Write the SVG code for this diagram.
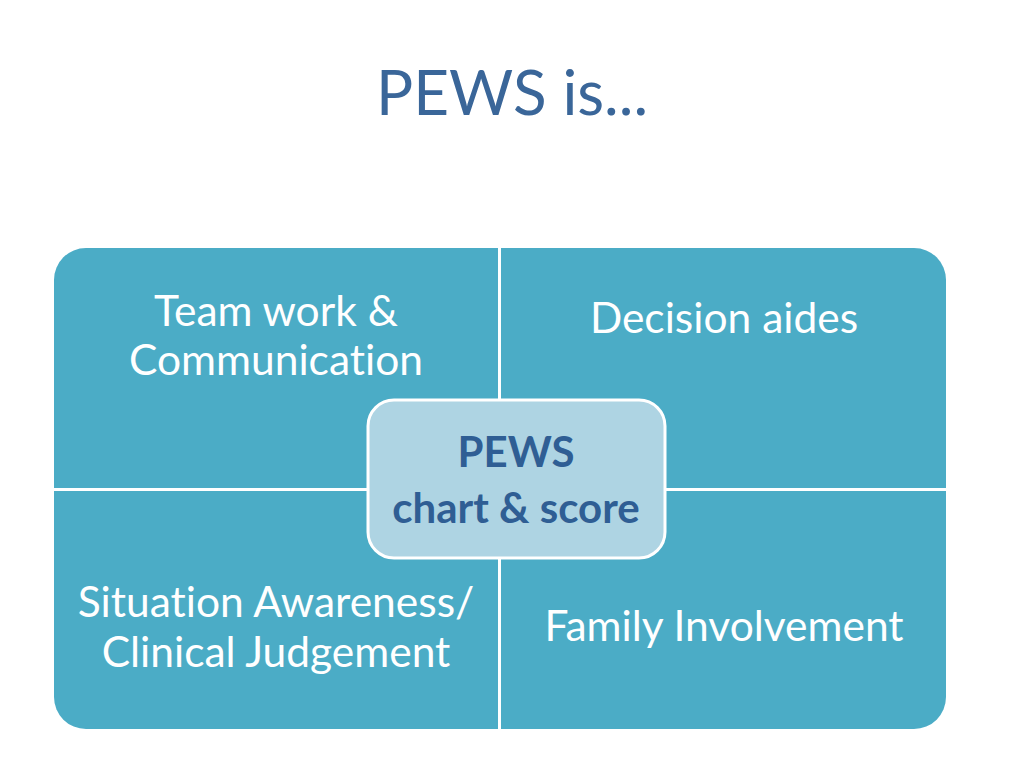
<svg xmlns="http://www.w3.org/2000/svg" width="1024" height="768" viewBox="0 0 1024 768">
<style>
text{font-variant-ligatures:none;font-feature-settings:"liga" 0}
.q{fill:#4BACC6}
.qt{font-family:Lato,"Liberation Sans",sans-serif;font-size:42.5px;fill:#FFFFFF;text-anchor:middle}
.ct{font-family:Lato,"Liberation Sans",sans-serif;font-size:42px;font-weight:bold;fill:#2F5E94;text-anchor:middle}
</style>
<rect width="1024" height="768" fill="#FFFFFF"/>
<g id="title"><text x="512" y="115" font-family="Lato,'Liberation Sans',sans-serif" font-size="62" fill="#3A6699" text-anchor="middle">PEWS is...</text></g>
<g id="q-teamwork">
<path class="q" d="M54,280 A32,32 0 0 1 86,248 L498,248 L498,488 L54,488 Z"/>
<text class="qt" x="276" y="326">Team work &amp;</text>
<text class="qt" x="276" y="375">Communication</text>
</g>
<g id="q-decision">
<path class="q" d="M501,248 L914,248 A32,32 0 0 1 946,280 L946,488 L501,488 Z"/>
<text class="qt" x="724" y="333">Decision aides</text>
</g>
<g id="q-situation">
<path class="q" d="M54,491 L498,491 L498,729 L86,729 A32,32 0 0 1 54,697 Z"/>
<text class="qt" x="276" y="617">Situation Awareness/</text>
<text class="qt" x="276" y="667">Clinical Judgement</text>
</g>
<g id="q-family">
<path class="q" d="M501,491 L946,491 L946,697 A32,32 0 0 1 914,729 L501,729 Z"/>
<text class="qt" x="724" y="641">Family Involvement</text>
</g>
<g id="center">
<rect x="368" y="400" width="297" height="158" rx="26" fill="#AED4E3" stroke="#FFFFFF" stroke-width="3"/>
<text class="ct" x="516" y="467">PEWS</text>
<text class="ct" x="516" y="523">chart &amp; score</text>
</g>
<g id="connectors"></g>
</svg>
